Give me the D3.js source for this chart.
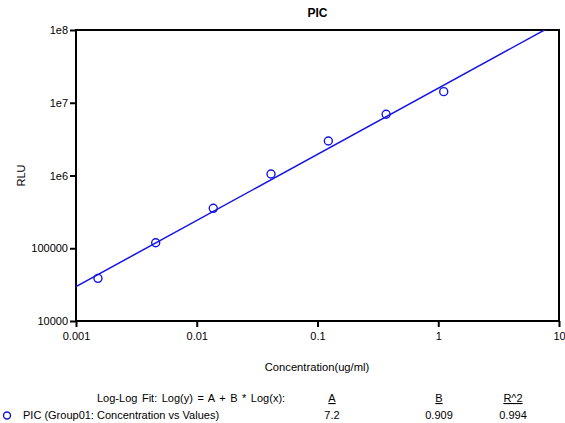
<!DOCTYPE html>
<html>
<head>
<meta charset="utf-8">
<script src="https://cdn.jsdelivr.net/npm/d3@7.9.0/dist/d3.min.js"></script>
<style>
  body { margin: 0; background: #fff; }
  svg { display: block; font-family: "Liberation Sans", Arial, sans-serif; }
  text { fill: #000; }
</style>
</head>
<body>
<svg id="chart" width="565" height="423"></svg>
<script>
// data
const concentrations = [0.00152, 0.00457, 0.0137, 0.0412, 0.123, 0.370, 1.11];
const rluValues = [38600, 119000, 354000, 1.05e6, 2.98e6, 6.94e6, 1.42e7];
const xTicks = [0.001, 0.01, 0.1, 1, 10];
const xTickLabels = ['0.001', '0.01', '0.1', '1', '10'];
const yTicks = [1e4, 1e5, 1e6, 1e7, 1e8];
const yTickLabels = ['10000', '100000', '1e6', '1e7', '1e8'];
const fitA = 7.2, fitB = 0.909, fitR2 = 0.994;

const svg = d3.select('#chart');
const plotL = 76, plotR = 559, plotT = 30, plotB = 321;
const blue = '#1414e6';

const x = d3.scaleLog().domain([0.001, 10]).range([plotL, plotR]);
const y = d3.scaleLog().domain([1e4, 1e8]).range([plotB, plotT]);

// frame
svg.append('rect')
  .attr('x', plotL).attr('y', plotT)
  .attr('width', plotR - plotL).attr('height', plotB - plotT)
  .attr('fill', 'none').attr('stroke', '#000').attr('stroke-width', 2);

// axes
const yAxis = svg.append('g')
  .attr('transform', `translate(${plotL},0)`)
  .call(d3.axisLeft(y).tickValues(yTicks)
    .tickFormat((d, i) => yTickLabels[i]).tickSize(6).tickPadding(2));
const xAxis = svg.append('g')
  .attr('transform', `translate(0,${plotB})`)
  .call(d3.axisBottom(x).tickValues(xTicks)
    .tickFormat((d, i) => xTickLabels[i]).tickSize(6).tickPadding(5));
[xAxis, yAxis].forEach(g => {
  g.select('.domain').remove();
  g.selectAll('line').attr('stroke-width', 2);
  g.selectAll('text').attr('font-size', 11).attr('font-family', '"Liberation Sans", Arial, sans-serif');
});

// title and axis labels
svg.append('text').attr('x', (plotL + plotR) / 2).attr('y', 17)
  .attr('text-anchor', 'middle').attr('font-size', 12).attr('font-weight', 'bold')
  .text('PIC');
svg.append('text').attr('x', 317).attr('y', 371)
  .attr('text-anchor', 'middle').attr('font-size', 11.2)
  .text('Concentration(ug/ml)');
svg.append('text')
  .attr('transform', `translate(25,${(plotT + plotB) / 2}) rotate(-90)`)
  .attr('text-anchor', 'middle').attr('font-size', 11)
  .text('RLU');

// fitted line, clipped to plot area
svg.append('clipPath').attr('id', 'plot-clip')
  .append('rect').attr('x', plotL).attr('y', plotT)
  .attr('width', plotR - plotL).attr('height', plotB - plotT);

const fitLine = d3.line()
  .x(d => x(d))
  .y(d => y(Math.pow(10, fitA + fitB * Math.log10(d))));
svg.append('path')
  .datum(x.domain())
  .attr('clip-path', 'url(#plot-clip)')
  .attr('d', fitLine)
  .attr('fill', 'none').attr('stroke', blue).attr('stroke-width', 1.5);

// points
svg.append('g').selectAll('circle')
  .data(concentrations.map((c, i) => [c, rluValues[i]]))
  .join('circle')
  .attr('cx', d => x(d[0])).attr('cy', d => y(d[1])).attr('r', 4)
  .attr('fill', 'none').attr('stroke', blue).attr('stroke-width', 1.4);

// legend / fit table
const row1 = 402, row2 = 419;
svg.append('text').attr('x', 97).attr('y', row1).attr('font-size', 11)
  .attr('word-spacing', 1.5)
  .text('Log-Log Fit: Log(y) = A + B * Log(x):');
const cols = [
  { head: 'A', val: '7.2', cx: 332 },
  { head: 'B', val: fitB.toFixed(3), cx: 439 },
  { head: 'R^2', val: fitR2.toFixed(3), cx: 513 }
];
cols.forEach(c => {
  svg.append('text').attr('x', c.cx).attr('y', row1).attr('font-size', 11)
    .attr('text-anchor', 'middle').attr('text-decoration', 'underline').text(c.head);
  svg.append('text').attr('x', c.cx).attr('y', row2).attr('font-size', 11)
    .attr('text-anchor', 'middle').text(c.val);
});
svg.append('circle').attr('cx', 7).attr('cy', row2 - 3.5).attr('r', 3.5)
  .attr('fill', 'none').attr('stroke', blue).attr('stroke-width', 1.4);
svg.append('text').attr('x', 23).attr('y', row2).attr('font-size', 11)
  .text('PIC (Group01: Concentration vs Values)');
</script>
</body>
</html>
